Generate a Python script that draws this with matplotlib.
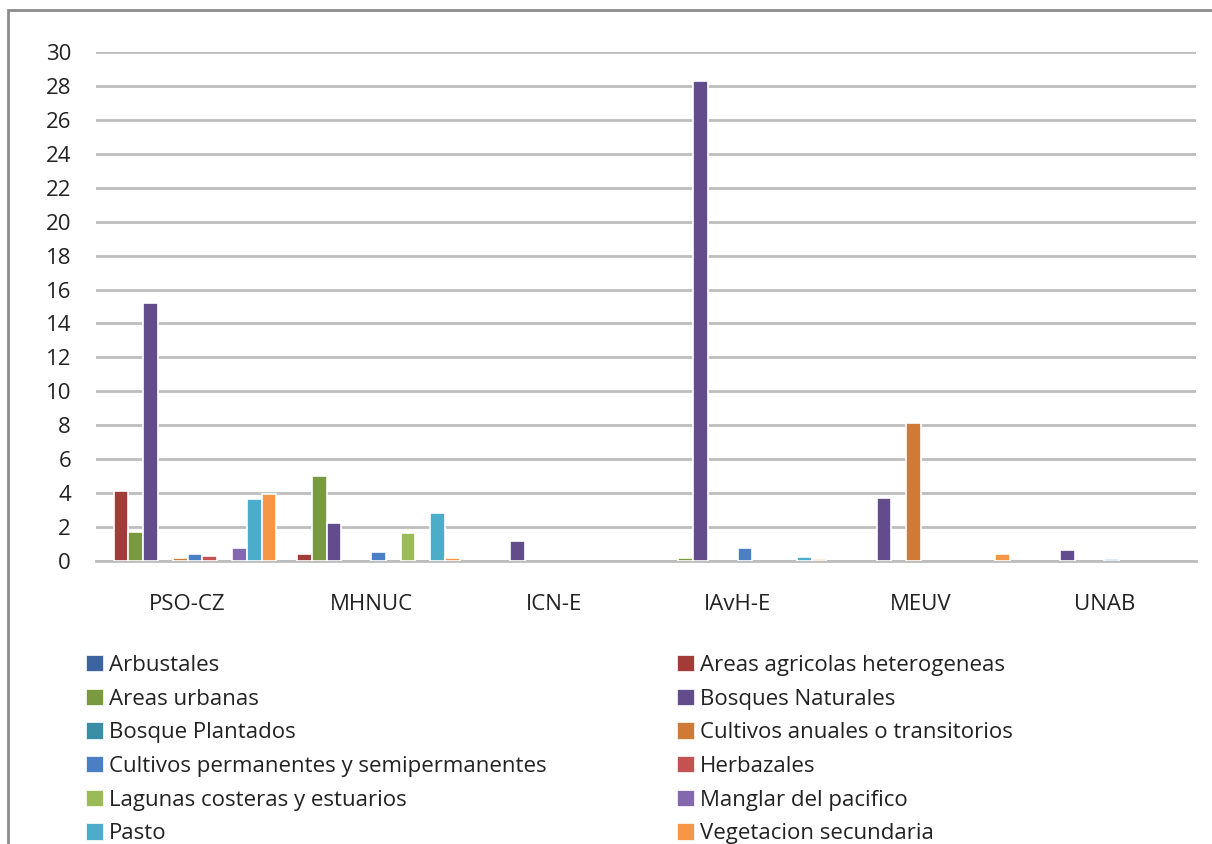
import matplotlib.pyplot as plt
from matplotlib.patches import Rectangle, Patch
import numpy as np

# Collections and land-cover classes
colecciones = ['PSO-CZ', 'MHNUC', 'ICN-E', 'IAvH-E', 'MEUV', 'UNAB']
coberturas = ['Arbustales', 'Areas agricolas heterogeneas', 'Areas urbanas',
              'Bosques Naturales', 'Bosque Plantados', 'Cultivos anuales o transitorios',
              'Cultivos permanentes y semipermanentes', 'Herbazales',
              'Lagunas costeras y estuarios', 'Manglar del pacifico', 'Pasto',
              'Vegetacion secundaria']

# Percentage per collection, one list per cover class
arbustales = [0, 0, 0, 0, 0, 0]
areas_agricolas = [4.1, 0.4, 0, 0, 0, 0]
areas_urbanas = [1.7, 5.0, 0, 0.15, 0, 0]
bosques_naturales = [15.2, 2.25, 1.2, 28.3, 3.7, 0.65]
bosque_plantados = [0, 0, 0, 0, 0, 0]
cultivos_anuales = [0.15, 0, 0, 0, 8.15, 0]
cultivos_permanentes = [0.4, 0.55, 0, 0.75, 0, 0.1]
herbazales = [0.3, 0, 0, 0, 0, 0]
lagunas = [0, 1.65, 0, 0, 0, 0]
manglar = [0.75, 0, 0, 0, 0, 0]
pasto = [3.65, 2.8, 0, 0.25, 0, 0]
vegetacion_secundaria = [3.95, 0.15, 0, 0.1, 0.4, 0]

valores = [arbustales, areas_agricolas, areas_urbanas, bosques_naturales,
           bosque_plantados, cultivos_anuales, cultivos_permanentes, herbazales,
           lagunas, manglar, pasto, vegetacion_secundaria]

colores = ['#3E64A0', '#A33B38', '#7A9A3F', '#634C8C', '#3A8FA7', '#D07A35',
           '#4A7EC5', '#C55250', '#9BBB59', '#8468AF', '#4BADCA', '#F79646']

plt.rcParams['font.family'] = ['Open Sans', 'DejaVu Sans']

fig = plt.figure(figsize=(12.12, 8.44), dpi=100)
ax = fig.add_axes([96 / 1212, 1 - 561 / 844, 1100 / 1212, 509 / 844])

x = np.arange(len(colecciones))
n = len(coberturas)
ancho = 0.0807
for i, (vals, col) in enumerate(zip(valores, colores)):
    off = (i - (n - 1) / 2) * ancho
    h = np.array(vals, dtype=float)
    h[h == 0] = np.nan  # empty classes are not drawn
    ax.bar(x + off, h, width=ancho, color=col, edgecolor='white',
           linewidth=1.2, zorder=3)

ax.set_xlim(-0.5, len(colecciones) - 0.5)
ax.set_ylim(0, 30)
ax.set_yticks(range(0, 31, 2))
ax.set_xticks(x)
ax.set_xticklabels(colecciones)
ax.tick_params(axis='both', length=0, labelsize=16, colors='#222222')
ax.tick_params(axis='x', pad=24)
ax.tick_params(axis='y', pad=18)
ax.yaxis.grid(True, color='#BDBDBD', linewidth=2)
for s in ['top', 'right', 'left']:
    ax.spines[s].set_visible(False)
ax.spines['bottom'].set_color('#BDBDBD')
ax.spines['bottom'].set_linewidth(2)

# Legend in two columns, row by row
handles = [Patch(facecolor=c, edgecolor='white', linewidth=0.5) for c in colores]
kw = dict(frameon=False, fontsize=16, handlelength=0.75, handleheight=0.75,
          handletextpad=0.3, labelspacing=0.57, borderaxespad=0, borderpad=0,
          labelcolor='#222222')
fig.legend(handles[0::2], coberturas[0::2], loc='upper left',
           bbox_to_anchor=(86 / 1212, 1 - 655 / 844), **kw)
fig.legend(handles[1::2], coberturas[1::2], loc='upper left',
           bbox_to_anchor=(677 / 1212, 1 - 655 / 844), **kw)

# Chart area frame
fig.add_artist(Rectangle((8 / 1212, -0.1), 1.2, 1 - 10 / 844 + 0.1,
                         transform=fig.transFigure, fill=False,
                         edgecolor='#8C8C8C', linewidth=2))

fig.savefig('out.png', dpi=100, facecolor='white')
